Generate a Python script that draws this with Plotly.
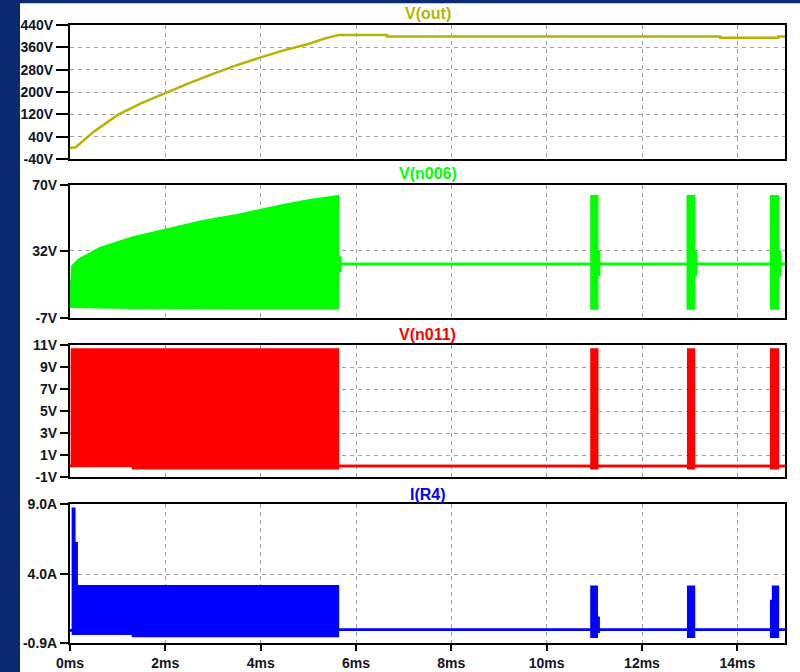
import plotly.graph_objects as go

# ---- time axis (ms) -------------------------------------------------------
x_ticks = [0, 2, 4, 6, 8, 10, 12, 14]
x_ticktext = ["0ms", "2ms", "4ms", "6ms", "8ms", "10ms", "12ms", "14ms"]

# ---- V(out): output voltage (single trace) ---------------------------------
t_out = [0.0, 0.12, 0.5, 1.0, 1.5, 2.0, 2.5, 3.0, 3.5, 4.0, 4.5, 5.0, 5.35, 5.64,
         6.65, 6.65, 13.64, 13.64, 14.86, 14.86, 15.0]
v_out = [0, 2, 58, 118, 160, 196, 232, 265, 296, 324, 350, 372, 392, 404,
         404, 399, 399, 394, 394, 399, 399]
ticks_out = [-40, 40, 120, 200, 280, 360, 440]
ticktext_out = ["-40V", "40V", "120V", "200V", "280V", "360V", "440V"]

# ---- V(n006): switch node, drawn as min/max envelope ------------------------
t_n006 = [0.0, 0.03, 0.05, 0.20, 0.63, 1.32, 2.00, 2.73, 3.50, 4.00, 4.50, 5.00, 5.62,
          5.62, 5.67, 5.67, 10.94, 10.94, 11.06, 11.06, 11.10, 11.10,
          12.96, 12.96, 13.09, 13.09, 13.13, 13.13,
          14.71, 14.71, 14.85, 14.85, 14.90, 14.90, 15.0]
hi_n006 = [14, 14, 23.1, 27, 33.4, 39.7, 44, 48.8, 52.5, 55.5, 58.5, 61, 63.5,
           28, 28, 24.2, 24.2, 63.5, 63.5, 31, 31, 24.2,
           24.2, 63.5, 63.5, 31, 31, 24.2,
           24.2, 63.5, 63.5, 31, 31, 24.2, 24.2]
lo_n006 = [-0.5, -0.5, -0.5, -0.5, -0.8, -1.0, -1.2, -1.3, -1.3, -1.3, -1.3, -1.3, -1.3,
           20, 20, 24.2, 24.2, -1.5, -1.5, 18, 18, 24.2,
           24.2, -1.5, -1.5, 18, 18, 24.2,
           24.2, -1.5, -1.5, 18, 18, 24.2, 24.2]
ticks_n006 = [-7, 32, 70]
ticktext_n006 = ["-7V", "32V", "70V"]

# ---- V(n011): gate drive envelope -----------------------------------------
t_n011 = [0.0, 0.04, 0.04, 1.32, 1.32, 5.62, 5.62, 10.94, 10.94, 11.06, 11.06,
          12.97, 12.97, 13.09, 13.09, 14.71, 14.71, 14.85, 14.85, 15.0]
hi_n011 = [0.0, 0.0, 10.6, 10.6, 10.6, 10.6, 0.0, 0.0, 10.6, 10.6, 0.0,
           0.0, 10.6, 10.6, 0.0, 0.0, 10.6, 10.6, 0.0, 0.0]
lo_n011 = [0.0, 0.0, 0.0, 0.0, -0.2, -0.2, 0.0, 0.0, -0.2, -0.2, 0.0,
           0.0, -0.2, -0.2, 0.0, 0.0, -0.2, -0.2, 0.0, 0.0]
ticks_n011 = [-1, 1, 3, 5, 7, 9, 11]
ticktext_n011 = ["-1V", "1V", "3V", "5V", "7V", "9V", "11V"]

# ---- I(R4): sense-resistor current envelope --------------------------------
t_r4 = [0.00, 0.06, 0.06, 0.09, 0.09, 0.14, 0.14, 1.32, 1.32, 5.62, 5.62,
        10.94, 10.94, 11.05, 11.05, 11.09, 11.09, 12.97, 12.97, 13.09, 13.09,
        14.71, 14.71, 14.75, 14.75, 14.85, 14.85, 15.00]
hi_r4 = [0.0, 0.0, 8.66, 8.66, 6.2, 6.2, 3.15, 3.15, 3.15, 3.15, 0.05,
         0.05, 3.1, 3.1, 0.9, 0.9, 0.05, 0.05, 3.1, 3.1, 0.05,
         0.05, 2.1, 2.1, 3.1, 3.1, 0.05, 0.05]
lo_r4 = [0.0, 0.0, -0.25, -0.25, -0.25, -0.25, -0.25, -0.25, -0.4, -0.4, 0.05,
         0.05, -0.45, -0.45, -0.1, -0.1, 0.05, 0.05, -0.45, -0.45, 0.05,
         0.05, -0.45, -0.45, -0.45, -0.45, 0.05, 0.05]
ticks_r4 = [-0.9, 4.0, 9.0]
ticktext_r4 = ["-0.9A", "4.0A", "9.0A"]

# ---- styling ---------------------------------------------------------------
C_OUT, C_N006, C_N011, C_R4 = "#b4b400", "#00ff00", "#ff0000", "#0000ff"
NAVY = "#0b2a6f"
GRID = "#a0a0a0"
TXT = "#14141e"
FONT = "Liberation Sans"

W, H = 800, 672
ML, MR, MT, MB = 70, 15, 25, 29
plot_h = H - MT - MB


def yfrac(px):
    return (H - MB - px) / plot_h


# pane pixel extents (top, bottom)
panes = [(25, 159), (185, 318), (345, 477), (504, 643)]

fig = go.Figure()


def envelope(t, lo, hi, color, ax):
    fig.add_trace(go.Scatter(x=t, y=lo, mode="lines", line=dict(color=color, width=2.5),
                             xaxis=ax[0], yaxis=ax[1], hoverinfo="skip", showlegend=False))
    fig.add_trace(go.Scatter(x=t, y=hi, mode="lines", line=dict(color=color, width=2.5),
                             fill="tonexty", fillcolor=color,
                             xaxis=ax[0], yaxis=ax[1], hoverinfo="skip", showlegend=False))


fig.add_trace(go.Scatter(x=t_out, y=v_out, mode="lines", line=dict(color=C_OUT, width=2.5),
                         xaxis="x", yaxis="y", hoverinfo="skip", showlegend=False))
envelope(t_n006, lo_n006, hi_n006, C_N006, ("x2", "y2"))
envelope(t_n011, lo_n011, hi_n011, C_N011, ("x3", "y3"))
envelope(t_r4, lo_r4, hi_r4, C_R4, ("x4", "y4"))

tickfont = dict(family=FONT, size=14, color=TXT, weight="bold")

yspecs = [
    ([-40, 440], ticks_out, ticktext_out, 12),
    ([-7, 70], ticks_n006, ticktext_n006, 8),
    ([-1, 11], ticks_n011, ticktext_n011, 8),
    ([-0.9, 9.0], ticks_r4, ticktext_r4, 8),
]

layout = dict(
    width=W, height=H,
    margin=dict(l=ML, r=MR, t=MT, b=MB, pad=0),
    paper_bgcolor="white", plot_bgcolor="white",
    showlegend=False,
)

for i, ((top, bot), (yr, tv, tt, tl)) in enumerate(zip(panes, yspecs)):
    n = "" if i == 0 else str(i + 1)
    last = i == len(panes) - 1
    layout["xaxis" + n] = dict(
        domain=[0, 1], range=[0, 15], anchor="y" + n, automargin=False,
        tickvals=x_ticks, ticktext=x_ticktext,
        showticklabels=last, ticks="outside" if last else "",
        ticklen=6, tickwidth=2, tickcolor="black", tickfont=tickfont,
        showline=True, linecolor="black", linewidth=2, mirror=True,
        showgrid=True, gridcolor=GRID, gridwidth=1, griddash="4px,4px",
        zeroline=False, fixedrange=True,
    )
    layout["yaxis" + n] = dict(
        domain=[yfrac(bot), yfrac(top)], range=yr, anchor="x" + n, automargin=False,
        tickvals=tv, ticktext=tt, ticks="outside",
        ticklen=tl, tickwidth=2, tickcolor="black", tickfont=tickfont,
        showline=True, linecolor="black", linewidth=2, mirror=True,
        showgrid=True, gridcolor=GRID, gridwidth=1, griddash="4px,4px",
        zeroline=False, fixedrange=True,
    )

fig.update_layout(**layout)

# pane titles
titles = [("V(out)", C_OUT, 14), ("V(n006)", C_N006, 174),
          ("V(n011)", C_N011, 334), ("I(R4)", C_R4, 494)]
for text, color, ypx in titles:
    fig.add_annotation(text=text, x=0.5, y=yfrac(ypx), xref="paper", yref="paper",
                       showarrow=False, xanchor="center", yanchor="middle",
                       font=dict(family=FONT, size=16, color=color, weight="bold"))

# navy window border (left and top)
fig.add_shape(type="rect", xref="paper", yref="paper", layer="below",
              x0=-0.2, x1=(20 - ML) / (W - ML - MR), y0=-0.2, y1=1.2,
              fillcolor=NAVY, line=dict(width=0))
fig.add_shape(type="rect", xref="paper", yref="paper", layer="below",
              x0=-0.2, x1=1.2, y0=yfrac(3.3), y1=1.2,
              fillcolor=NAVY, line=dict(width=0))

fig.write_html("out.html")
